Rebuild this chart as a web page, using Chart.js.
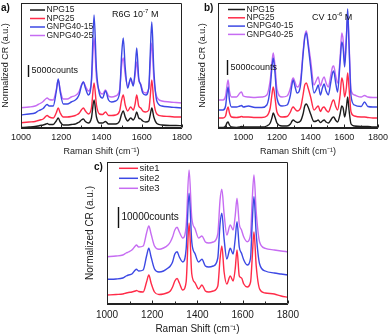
<!DOCTYPE html>
<html lang="en">
<head>
<meta charset="UTF-8" />
<title>Raman spectra - NPG / GNPG</title>
<style>
  body { margin: 0; background: #fff; }
  #wrap { position: relative; width: 392px; height: 335px; overflow: hidden;
          font-family: "Liberation Sans Narrow", "Liberation Sans", Arial, sans-serif; color: #111; }
  canvas { position: absolute; }
  .tag { position: absolute; font-size: 10px; font-weight: bold; }
  .note { position: absolute; font-size: 9px; white-space: nowrap; }
  .note sup { font-size: 6px; vertical-align: 4px; line-height: 0; }
</style>
</head>
<body>
<div id="wrap">
  <canvas id="chartA" width="196" height="158" style="left:0;top:0"></canvas>
  <canvas id="chartB" width="196" height="158" style="left:196px;top:0"></canvas>
  <canvas id="chartC" width="222" height="177" style="left:82px;top:158px"></canvas>
  <div class="tag" style="left:1px;top:2px">a)</div>
  <div class="tag" style="left:204px;top:2px">b)</div>
  <div class="tag" style="left:94px;top:161px">c)</div>
  <div class="note" style="left:112px;top:9px">R6G 10<sup>-7</sup> M</div>
  <div class="note" style="left:312px;top:12px">CV 10<sup>-6</sup> M</div>
</div>

<script src="https://cdn.jsdelivr.net/npm/chart.js@4.4.0/dist/chart.umd.min.js"></script>
<script>
  // ---- data (intensity in a.u.) ----
  // R6G spectra, panels a) and c)
  const SHIFT_R6G = [1000, 1040, 1070, 1085, 1095, 1110, 1125, 1130, 1140, 1160,
    1175, 1185, 1195, 1210, 1230, 1250, 1270, 1280, 1290, 1300,
    1310, 1320, 1335, 1350, 1363, 1375, 1390, 1405, 1420, 1435,
    1450, 1470, 1490, 1500, 1508, 1518, 1530, 1545, 1558, 1567,
    1575, 1585, 1595, 1605, 1620, 1635, 1642, 1650, 1660, 1675,
    1700, 1740, 1770, 1800];

  const NPG15_A = [0.5, 1, 1.5, 2, 2.5, 3, 4, 4.5, 3.5, 3.5,
    7, 10, 6, 3, 3, 3.5, 4, 5, 6, 8,
    9, 6.5, 5, 10, 28, 11, 5, 5, 6.5, 4,
    4, 4, 7, 14, 17, 11, 7, 10, 8, 11,
    16, 10, 9, 7, 6, 7, 13, 20, 11, 4.5,
    3, 2.5, 2.5, 2.3];
  const NPG25_A = [5.3, 6, 6.5, 7.5, 8, 9, 12, 12.5, 11, 10,
    15, 20, 15, 11, 11, 11.5, 12.5, 13.5, 15, 18,
    20, 17, 14, 20, 45, 23, 14, 13.5, 16, 12.5,
    12.5, 13, 17, 28, 33, 23, 17, 21, 18, 24,
    33, 22, 20, 17, 16, 18, 31, 48, 26, 14,
    12, 11.5, 11, 11];
  const GNPG15_A = [13, 14, 15, 17, 18, 19.5, 23, 23.5, 22, 22,
    36, 49, 36, 24, 24, 26, 28, 30, 34, 42,
    46, 40, 33, 48, 113, 58, 34, 30, 37, 28,
    26, 27, 35, 73, 90, 60, 40, 50, 42, 58,
    80, 50, 43, 35, 33, 40, 73, 106, 58, 27,
    22, 21, 20.5, 20];
  const GNPG25_A = [20.3, 21, 22, 23.5, 24.5, 26.5, 29.5, 30, 28.5, 28,
    38, 48, 38, 29, 29, 31, 32.5, 34, 37, 43,
    46, 42, 37, 46, 90, 50, 37, 34, 38, 32,
    31, 32, 38, 62, 70, 53, 42, 48, 43, 53,
    66, 48, 44, 37, 35, 40, 63, 85, 50, 31,
    27, 26, 25.5, 25];

  // CV spectra, panel b)
  const SHIFT_CV = [850, 880, 895, 903, 910, 918, 930, 960, 980, 990,
    1000, 1030, 1070, 1110, 1140, 1160, 1170, 1178, 1188, 1200,
    1230, 1260, 1280, 1290, 1297, 1305, 1320, 1340, 1355, 1365,
    1375, 1385, 1400, 1420, 1435, 1445, 1458, 1470, 1480, 1492,
    1505, 1520, 1530, 1537, 1548, 1560, 1575, 1585, 1593, 1602,
    1612, 1620, 1628, 1640, 1660, 1700, 1720, 1740, 1770, 1800];

  const NPG15_B = [0.5, 0.5, 2, 5, 6, 3, 1, 0.5, 1, 1.5,
    1, 1, 1, 1, 2, 5, 10, 15, 11, 5,
    2, 2, 4, 7, 8, 7, 5.5, 7, 14, 22,
    24, 21, 14, 6.5, 7, 8, 5.5, 7, 8, 6,
    5, 8, 10.5, 11, 8, 6, 14, 22, 20, 11,
    20, 31, 18, 4, 2, 1.5, 1.5, 1.5, 1, 1];
  const NPG25_B = [10, 10, 12, 18, 21, 15, 11, 10.5, 11, 11.5,
    11, 11, 10.5, 10.5, 12, 20, 33, 41, 31, 16,
    11, 11.5, 16, 20, 21, 19.5, 17, 20, 33, 43,
    45, 40, 31, 18, 20.5, 22, 16.5, 20, 21, 18,
    16, 22, 27, 28, 22, 18, 33, 50, 45, 31,
    40, 55, 40, 16, 12, 11, 11, 10.5, 10, 10];
  const GNPG15_B = [18, 18, 22, 34, 41, 28, 21, 21, 22, 22.5,
    21, 22, 20.5, 20.5, 23, 40, 60, 70, 56, 30,
    22, 23, 33, 44, 48, 43, 35, 43, 73, 90,
    95, 83, 61, 35, 39, 43, 33, 40, 44, 37,
    33, 46, 55, 57, 46, 36, 66, 86, 80, 61,
    88, 119, 83, 32, 23, 21.5, 26, 21.5, 21, 21];
  const GNPG25_B = [28, 28, 32, 42, 48, 37, 31, 31, 35, 36,
    32, 31, 30.5, 31, 33, 48, 65, 75, 63, 39,
    31, 32, 40, 48, 50, 47, 41, 48, 76, 92,
    97, 86, 68, 43, 48, 51, 42, 48, 51, 45,
    41, 53, 61, 62, 53, 45, 70, 95, 88, 65,
    90, 112, 86, 38, 33, 31, 32.5, 31, 30.5, 30.5];

  // panel c) three sites
  const SITE1 = [9, 9.5, 10, 11, 11.5, 12, 13, 13.5, 12.5, 12,
    22, 29, 21, 12, 9.5, 10, 11.5, 13, 17, 23,
    25.5, 21, 14, 22, 81, 30, 21, 15, 19, 13,
    12, 13, 18, 45, 58, 32, 20, 28, 23, 35,
    54, 28, 26, 20, 17, 22, 45, 72, 38, 15,
    11, 10, 8, 6.7];
  const SITE2 = [24.7, 25, 26, 28, 29, 30, 34, 34.7, 33, 34,
    48, 55.7, 47, 35, 32, 33, 36, 38, 42, 50,
    52.3, 47, 42, 55, 110.7, 62, 50, 42, 44.7, 38,
    37, 38, 46, 80, 90.7, 65, 45, 55.7, 50, 65,
    82.3, 57, 50.7, 44, 39, 46, 80, 107.3, 70, 40,
    33, 31, 30, 29];
  const SITE3 = [47.3, 48, 49, 51, 52, 54, 58, 59, 57, 58,
    71, 78, 70, 58, 54.7, 56, 59, 62, 67, 74,
    76.7, 72, 66, 78, 134, 86, 75, 66, 68, 62,
    61, 62, 70, 104, 114.7, 90, 69, 79, 74, 88,
    105.7, 80, 74, 67, 62.3, 70, 103, 129, 92, 62,
    55.7, 54, 53, 52.3];

  const TICKS_X = [1000, 1200, 1400, 1600, 1800];
  const MINOR_X = [900, 1100, 1300, 1500, 1700];

  const COLORS = { black: '#1c1c1c', red: '#ff2b48', blue: '#3c48e4', purple: '#c66cf2' };
  const FONT = '"Liberation Sans Narrow", "Liberation Sans", Arial, sans-serif';

  Chart.defaults.font.family = FONT;
  Chart.defaults.color = '#1a1a1a';

  // box around the plot (top/right sides), with small inward ticks
  const plotBox = {
    id: 'plotBox',
    afterDraw(chart) {
      const ctx = chart.ctx;
      const a = chart.chartArea;
      const xs = chart.scales.x;
      const L = Math.round(a.left) + 0.5, R = Math.round(a.right) - 0.5;
      const T = Math.round(a.top) + 0.5, B = Math.round(a.bottom) - 0.5;
      ctx.save();
      ctx.strokeStyle = '#222';
      ctx.lineWidth = 1;
      ctx.beginPath();
      ctx.moveTo(L, B);
      ctx.lineTo(L, T);
      ctx.lineTo(R, T);
      ctx.lineTo(R, B);
      ctx.lineTo(L, B);
      ctx.stroke();
      const tick = (v, len) => {
        if (v < xs.min || v > xs.max) return;
        const p = Math.round(xs.getPixelForValue(v)) + 0.5;
        ctx.beginPath();
        ctx.moveTo(p, B);
        ctx.lineTo(p, B - len);
        ctx.stroke();
      };
      TICKS_X.forEach(v => tick(v, 3));
      MINOR_X.forEach(v => tick(v, 2));
      ctx.restore();
    }
  };

  // legend drawn inside the plot
  const insideLegend = {
    id: 'insideLegend',
    afterDraw(chart, args, o) {
      const ctx = chart.ctx;
      ctx.save();
      ctx.font = o.size + 'px ' + FONT;
      ctx.textBaseline = 'middle';
      chart.data.datasets.forEach((ds, i) => {
        const y = o.y + i * o.dy;
        ctx.strokeStyle = ds.borderColor;
        ctx.lineWidth = 1.5;
        ctx.beginPath();
        ctx.moveTo(o.x, y);
        ctx.lineTo(o.x + o.len, y);
        ctx.stroke();
        ctx.fillStyle = '#1a1a1a';
        ctx.fillText(ds.label, o.x + o.len + 1.5, y);
      });
      ctx.restore();
    }
  };

  // vertical counts scale bar, placed in data units
  const countsBar = {
    id: 'countsBar',
    afterDraw(chart, args, o) {
      const { ctx, scales } = chart;
      const px = Math.round(scales.x.getPixelForValue(o.at)) + 0.5;
      const p0 = scales.y.getPixelForValue(o.from);
      const p1 = scales.y.getPixelForValue(o.to);
      ctx.save();
      ctx.strokeStyle = '#111';
      ctx.lineWidth = 1.4;
      ctx.beginPath();
      ctx.moveTo(px, p0);
      ctx.lineTo(px, p1);
      ctx.stroke();
      ctx.font = o.size + 'px ' + FONT;
      ctx.fillStyle = '#111';
      ctx.textBaseline = 'middle';
      ctx.fillText(o.label, px + 3, (p0 + p1) / 2);
      ctx.restore();
    }
  };

  function series(label, xs, ys, color) {
    return {
      label: label,
      data: xs.map((x, i) => ({ x: x, y: ys[i] })),
      borderColor: color,
      borderWidth: 1.4,
      pointRadius: 0,
      fill: false,
      cubicInterpolationMode: 'monotone'
    };
  }

  function panel(id, datasets, p) {
    return new Chart(document.getElementById(id), {
      type: 'line',
      data: { datasets: datasets },
      plugins: [plotBox, insideLegend, countsBar],
      options: {
        responsive: false,
        animation: false,
        layout: { padding: { top: p.padTop, right: p.padRight, left: 0, bottom: 0 } },
        plugins: {
          legend: { display: false },
          tooltip: { enabled: false },
          insideLegend: p.legend,
          countsBar: p.bar
        },
        scales: {
          x: {
            type: 'linear',
            min: p.xmin,
            max: 1800,
            afterBuildTicks: s => { s.ticks = TICKS_X.map(v => ({ value: v })); },
            afterFit: s => { s.height = p.xHeight; },
            grid: { display: false, drawTicks: false },
            border: { display: true, color: '#222', width: 1 },
            ticks: { font: { size: p.font }, padding: p.tickPad, maxRotation: 0, autoSkip: false,
                     callback: v => String(v) },
            title: { display: true, text: 'Raman Shift (cm\u207B\u00B9)', font: { size: p.font },
                     padding: { top: 0, bottom: p.xTitlePad } }
          },
          y: {
            min: 0,
            max: p.ymax,
            afterFit: s => { s.width = p.yWidth; },
            grid: { display: false, drawTicks: false },
            border: { display: true, color: '#222', width: 1 },
            ticks: { display: false },
            title: { display: true, text: 'Normalized CR (a.u.)', font: { size: p.font },
                     padding: { top: p.yTitlePad, bottom: 0 } }
          }
        }
      }
    });
  }

  panel('chartA', [
    series('NPG15', SHIFT_R6G, NPG15_A, COLORS.black),
    series('NPG25', SHIFT_R6G, NPG25_A, COLORS.red),
    series('GNPG40-15', SHIFT_R6G, GNPG15_A, COLORS.blue),
    series('GNPG40-25', SHIFT_R6G, GNPG25_A, COLORS.purple)
  ], {
    xmin: 1000, ymax: 125, padTop: 3, padRight: 10, yWidth: 21, xHeight: 30,
    font: 9, tickPad: 4, xTitlePad: 1, yTitlePad: 0,
    legend: { x: 30, y: 10, dy: 8.5, len: 15, size: 8.5 },
    bar: { at: 1034, from: 51, to: 63, label: '5000counts', size: 9 }
  });

  panel('chartB', [
    series('NPG15', SHIFT_CV, NPG15_B, COLORS.black),
    series('NPG25', SHIFT_CV, NPG25_B, COLORS.red),
    series('GNPG40-15', SHIFT_CV, GNPG15_B, COLORS.blue),
    series('GNPG40-25', SHIFT_CV, GNPG25_B, COLORS.purple)
  ], {
    xmin: 850, ymax: 125, padTop: 3, padRight: 7, yWidth: 22, xHeight: 30,
    font: 9, tickPad: 4, xTitlePad: 1, yTitlePad: 1,
    legend: { x: 32, y: 9.5, dy: 8.3, len: 17, size: 8.5 },
    bar: { at: 901, from: 53, to: 68, label: '5000counts', size: 9 }
  });

  panel('chartC', [
    series('site1', SHIFT_R6G, SITE1, COLORS.red),
    series('site2', SHIFT_R6G, SITE2, COLORS.blue),
    series('site3', SHIFT_R6G, SITE3, COLORS.purple)
  ], {
    xmin: 1000, ymax: 142, padTop: 4, padRight: 11, yWidth: 25, xHeight: 31,
    font: 10, tickPad: 5, xTitlePad: 0, yTitlePad: 2,
    legend: { x: 37, y: 10.3, dy: 10, len: 19, size: 9.5 },
    bar: { at: 1047, from: 76, to: 97, label: '10000counts', size: 10 }
  });
</script>
</body>
</html>
